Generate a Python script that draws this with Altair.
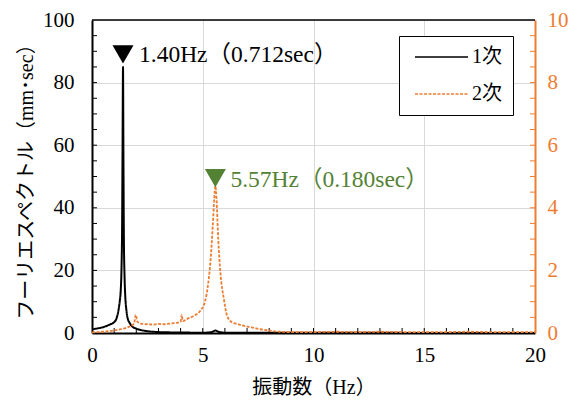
import altair as alt
import pandas as pd

# ---- data ----
f1 = [0, 0.2, 0.4, 0.6, 0.8, 1.0, 1.1, 1.2, 1.25, 1.3, 1.33, 1.36, 1.38, 1.40, 1.42,
      1.44, 1.47, 1.5, 1.55, 1.6, 1.7, 1.8, 2.0, 2.3, 2.6, 3.0, 3.5, 4.0, 5.0, 5.4,
      5.57, 5.75, 6.0, 7, 8, 10, 12, 14, 16, 18, 20]
v1 = [1.2, 1.4, 1.7, 2.1, 2.7, 3.5, 4.5, 7.5, 10, 14, 20, 35, 60, 85, 55,
      30, 18, 12, 7.5, 5, 3.2, 2.2, 1.4, 0.8, 0.5, 0.3, 0.2, 0.15, 0.1, 0.3,
      0.8, 0.3, 0.1, 0.08, 0.05, 0.05, 0.05, 0.04, 0.04, 0.04, 0.04]

f2 = [0, 0.5, 1.0, 1.3, 1.6, 1.9, 1.97, 2.05, 2.2, 2.5, 2.8, 3.0, 3.2, 3.5, 3.8,
      4.0, 4.05, 4.1, 4.3, 4.6, 4.9, 5.1, 5.25, 5.35, 5.45, 5.52, 5.57, 5.62, 5.7,
      5.8, 5.95, 6.1, 6.3, 6.6, 6.9, 7.2, 7.6, 8.0, 8.5, 9.0, 9.5, 10, 11, 12, 13,
      14, 15, 16, 17, 18, 19, 20]
v2 = [0.02, 0.04, 0.08, 0.12, 0.18, 0.3, 0.58, 0.36, 0.3, 0.28, 0.27, 0.29, 0.28,
      0.3, 0.32, 0.36, 0.58, 0.38, 0.45, 0.55, 0.72, 1.0, 1.6, 2.3, 3.4, 4.3, 4.7,
      4.3, 3.0, 1.9, 1.1, 0.55, 0.35, 0.28, 0.22, 0.18, 0.12, 0.08, 0.04, 0.03,
      0.03, 0.03, 0.04, 0.03, 0.04, 0.03, 0.03, 0.03, 0.04, 0.03, 0.03, 0.03]

series = ["1次", "2次"]
peak_f = [1.40, 5.57]
peak_label = ["1.40Hz（0.712sec）", "5.57Hz（0.180sec）"]
peak_pos_left = [89.0]
peak_pos_right = [4.95]

x_ticks = [0, 5, 10, 15, 20]
x_minor = list(range(1, 20))
yl_ticks = [0, 20, 40, 60, 80, 100]
yl_minor = list(range(5, 100, 5))
yr_ticks = [0, 2, 4, 6, 8, 10]
yr_minor = [i * 0.5 for i in range(1, 20)]

# ---- style ----
W, H = 443, 313
PL, PT, PR, PB = 84, 12, 36, 66
SERIF = "Liberation Serif, Noto Sans CJK JP"
ORANGE = "#ED7D31"
GREEN = "#548235"
GRID = "#d9d9d9"
LEGX, LEGY = 307, 16

df1 = pd.DataFrame({"f": f1, "v": v1, "s": series[0]})
df2 = pd.DataFrame({"f": f2, "v": v2, "s": series[1]})
dfp1 = pd.DataFrame({"f": [peak_f[0]], "v": peak_pos_left, "t": [peak_label[0]]})
dfp2 = pd.DataFrame({"f": [peak_f[1]], "v": peak_pos_right, "t": [peak_label[1]]})
dfxm = pd.DataFrame({"f": x_minor})
dflm = pd.DataFrame({"v": yl_minor})
dfrm = pd.DataFrame({"v": yr_minor})
dfone = pd.DataFrame({"a": [0]})

x_scale = alt.Scale(domain=[0, 20], nice=False, zero=False)
x_axis = alt.Axis(values=x_ticks, title="振動数（Hz）", grid=True, gridColor=GRID,
                  gridWidth=1, domainColor="black", domainWidth=2, tickSize=0,
                  labelFont=SERIF, labelFontSize=21, labelColor="black",
                  labelPadding=11, titleFont=SERIF, titleFontSize=20,
                  titleFontWeight="normal", titleColor="black", titlePadding=12,
                  labelFlush=False)
X = alt.X("f:Q", scale=x_scale, axis=x_axis)

yl_scale = alt.Scale(domain=[0, 100], nice=False)
yl_axis = alt.Axis(values=yl_ticks, orient="left", title="フーリエスペクトル（mm･sec）",
                   grid=True, gridColor=GRID, gridWidth=1, domainColor="black",
                   domainWidth=2, tickSize=0, labelFont=SERIF, labelFontSize=21,
                   labelColor="black", labelPadding=18, titleFont=SERIF,
                   titleFontSize=20, titleFontWeight="normal", titleColor="black",
                   titlePadding=6, labelFlush=False)
YL = alt.Y("v:Q", scale=yl_scale, axis=yl_axis)

yr_scale = alt.Scale(domain=[0, 10], nice=False)
yr_axis = alt.Axis(values=yr_ticks, orient="right", title=None, grid=False,
                   domainColor=ORANGE, domainWidth=2, tickSize=0,
                   labelFont=SERIF, labelFontSize=21, labelColor=ORANGE,
                   labelPadding=12, labelFlush=False)
YR = alt.Y("v:Q", scale=yr_scale, axis=yr_axis)

leg = alt.Legend(orient="none", legendX=LEGX, legendY=LEGY, title=None,
                 strokeColor="black", fillColor="white", padding=11,
                 symbolType="M-1,0H9.6", symbolSize=100, symbolStrokeWidth=1.5,
                 labelFont=SERIF, labelFontSize=20, labelColor="black",
                 rowPadding=17, labelOffset=42)
C = alt.Color("s:N", scale=alt.Scale(domain=series, range=["black", ORANGE]), legend=leg)
D = alt.StrokeDash("s:N", scale=alt.Scale(domain=series, range=[[1, 0], [3, 1.5]]), legend=leg)

# left layer
line1 = alt.Chart(df1).mark_line(strokeWidth=2, interpolate="monotone").encode(x=X, y=YL, color=C, strokeDash=D)
ltick = alt.Chart(dflm).mark_rule(color="black", strokeWidth=1).encode(
    y=YL, x=alt.value(0), x2=alt.value(5))
xtick = alt.Chart(dfxm).mark_rule(color="black", strokeWidth=1).encode(
    x=X, y=alt.value(H), y2=alt.value(H - 5))
topline = alt.Chart(dfone).mark_rule(color="black", strokeWidth=1.5).encode(
    x=alt.value(0), x2=alt.value(W), y=alt.value(0))
tri1 = alt.Chart(dfp1).mark_point(shape="triangle-down", filled=True, opacity=1,
                                   size=441, color="black").encode(x=X, y=YL)
txt1 = alt.Chart(dfp1).mark_text(align="left", baseline="middle", dx=16, dy=1,
                                 font=SERIF, fontSize=23.5, color="black").encode(
    x=X, y=YL, text="t:N")
left = alt.layer(line1, ltick, xtick, topline, tri1, txt1)

# right layer
line2 = alt.Chart(df2).mark_line(strokeWidth=1.8, interpolate="monotone").encode(x=X, y=YR, color=C, strokeDash=D)
rtick = alt.Chart(dfrm).mark_rule(color=ORANGE, strokeWidth=1).encode(
    y=YR, x=alt.value(W), x2=alt.value(W - 5))
tri2 = alt.Chart(dfp2).mark_point(shape="triangle-down", filled=True, opacity=1,
                                   size=441, color=GREEN).encode(x=X, y=YR)
txt2 = alt.Chart(dfp2).mark_text(align="left", baseline="middle", dx=15, dy=2,
                                 font=SERIF, fontSize=23.5, color=GREEN).encode(
    x=X, y=YR, text="t:N")
shadow = alt.Chart(dfone).mark_rect(color="black").encode(
    x=alt.value(LEGX + 4), x2=alt.value(LEGX + 4 + 109), y=alt.value(LEGY + 4),
    y2=alt.value(LEGY + 4 + 76))
right = alt.layer(line2, rtick, tri2, txt2, shadow)

chart = alt.layer(left, right).resolve_scale(y="independent").properties(
    width=W, height=H,
    autosize=alt.AutoSizeParams(type="none"),
    padding={"left": PL, "top": PT, "right": PR, "bottom": PB},
).configure_view(stroke=None).configure(background="white")

chart.save("out.html", embed_options={"renderer": "svg", "actions": False})
